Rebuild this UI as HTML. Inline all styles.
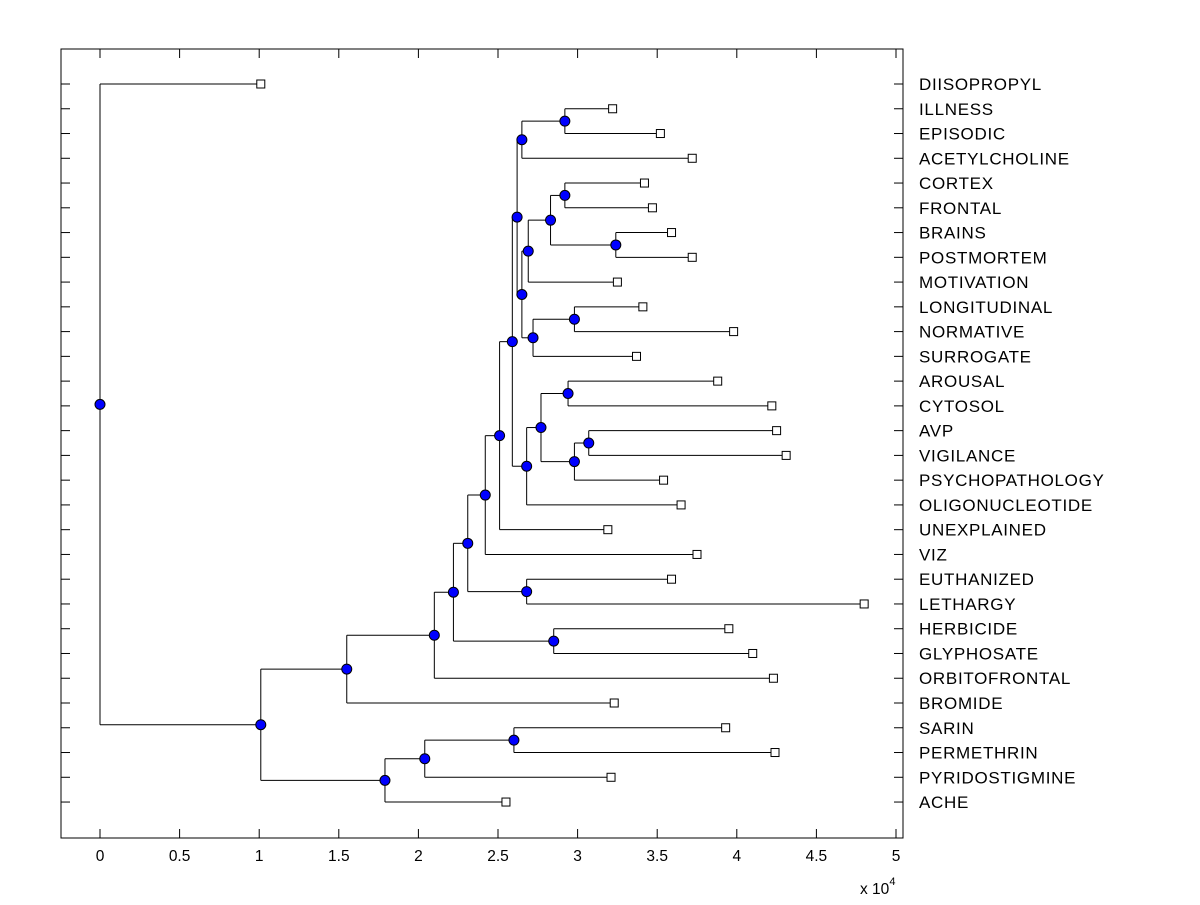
<!DOCTYPE html>
<html><head><meta charset="utf-8"><style>
body{margin:0;background:#fff;}
svg text{font-family:"Liberation Sans",Arial,sans-serif;}
</style></head><body>
<svg id="chart" width="1200" height="900" xmlns="http://www.w3.org/2000/svg">
<rect x="0" y="0" width="1200" height="900" fill="#fff"/>
<g id="g"></g>
</svg>
<script>
const leafNames = ["DIISOPROPYL","ILLNESS","EPISODIC","ACETYLCHOLINE","CORTEX","FRONTAL","BRAINS","POSTMORTEM","MOTIVATION","LONGITUDINAL","NORMATIVE","SURROGATE","AROUSAL","CYTOSOL","AVP","VIGILANCE","PSYCHOPATHOLOGY","OLIGONUCLEOTIDE","UNEXPLAINED","VIZ","EUTHANIZED","LETHARGY","HERBICIDE","GLYPHOSATE","ORBITOFRONTAL","BROMIDE","SARIN","PERMETHRIN","PYRIDOSTIGMINE","ACHE"];
const leafValues = [1.01,3.22,3.52,3.72,3.42,3.47,3.59,3.72,3.25,3.41,3.98,3.37,3.88,4.22,4.25,4.31,3.54,3.65,3.19,3.75,3.59,4.80,3.95,4.10,4.23,3.23,3.93,4.24,3.21,2.55];
const nodeIds = ["R","V","W","U","S","X","T","Q","P","N","Z","BB","AA","Y","O","M","L","J","K","H","I","G","F","B","E","D","C","A","ROOT"];
const nodeLeft = ["ILLNESS","CORTEX","BRAINS","V","U","LONGITUDINAL","X","S","R","P","AROUSAL","AVP","BB","Z","Y","N","M","L","EUTHANIZED","J","HERBICIDE","H","G","F","SARIN","E","D","B","DIISOPROPYL"];
const nodeRight = ["EPISODIC","FRONTAL","POSTMORTEM","W","MOTIVATION","NORMATIVE","SURROGATE","T","ACETYLCHOLINE","Q","CYTOSOL","VIGILANCE","PSYCHOPATHOLOGY","AA","OLIGONUCLEOTIDE","O","UNEXPLAINED","VIZ","LETHARGY","K","GLYPHOSATE","I","ORBITOFRONTAL","BROMIDE","PERMETHRIN","PYRIDOSTIGMINE","ACHE","C","A"];
const nodeValues = [2.92,2.92,3.24,2.83,2.69,2.98,2.72,2.65,2.65,2.62,2.94,3.07,2.98,2.77,2.68,2.59,2.51,2.42,2.68,2.31,2.85,2.22,2.10,1.55,2.60,2.04,1.79,1.01,0];
const xTicks = [0,0.5,1,1.5,2,2.5,3,3.5,4,4.5,5];

const L=61,T=49,R=903,B=838;
const X=v=>100+v*159.2;
const Y=i=>84+i*24.76;
const g=document.getElementById('g');
const NS="http://www.w3.org/2000/svg";
function mk(tag,attrs,parent){const e=document.createElementNS(NS,tag);for(const k in attrs)e.setAttribute(k,attrs[k]);(parent||g).appendChild(e);return e;}

const box=mk('rect',{x:L,y:T,width:R-L,height:B-T,fill:'none',stroke:'#000','stroke-width':1});


xTicks.forEach(t=>{
  const x=X(t);
  mk('line',{x1:x,y1:B,x2:x,y2:B-9,stroke:'#000'});
  mk('line',{x1:x,y1:T,x2:x,y2:T+9,stroke:'#000'});
  const tx=mk('text',{x:x,y:861,'font-size':15.5,'text-anchor':'middle',fill:'#000'});
  tx.textContent=String(t);
  
  
});
const ex=mk('text',{x:860,y:894,'font-size':15.5,fill:'#000'});
ex.innerHTML='x 10<tspan dy="-9" font-size="11">4</tspan>';



const pos={};
leafNames.forEach((n,i)=>{
  const y=Y(i);
  pos[n]={x:X(leafValues[i]),y:y};
  mk('line',{x1:L,y1:y,x2:L+9,y2:y,stroke:'#000'});
  mk('line',{x1:R,y1:y,x2:R-9,y2:y,stroke:'#000'});
  const t=mk('text',{x:919,y:y+6,'font-size':17,'letter-spacing':0.7,fill:'#000'});
  t.textContent=n;
  
  
});
const lines=mk('g',{});
const marks=mk('g',{});
nodeIds.forEach((id,i)=>{
  const a=pos[nodeLeft[i]],b=pos[nodeRight[i]];
  const x=X(nodeValues[i]);
  pos[id]={x:x,y:(a.y+b.y)/2};
  mk('line',{x1:x,y1:a.y,x2:x,y2:b.y,stroke:'#000'},lines);
  mk('line',{x1:x,y1:a.y,x2:a.x,y2:a.y,stroke:'#000'},lines);
  mk('line',{x1:x,y1:b.y,x2:b.x,y2:b.y,stroke:'#000'},lines);
});
leafNames.forEach(n=>{
  const p=pos[n];
  const s=mk('rect',{x:p.x-4,y:p.y-4,width:8,height:8,fill:'#fff',stroke:'#000'},marks);
  
  
});
nodeIds.forEach(id=>{
  const p=pos[id];
  const c=mk('circle',{cx:p.x,cy:p.y,r:5,fill:'#0000ff',stroke:'#000','stroke-width':1},marks);
  
  
});
</script>
</body></html>
